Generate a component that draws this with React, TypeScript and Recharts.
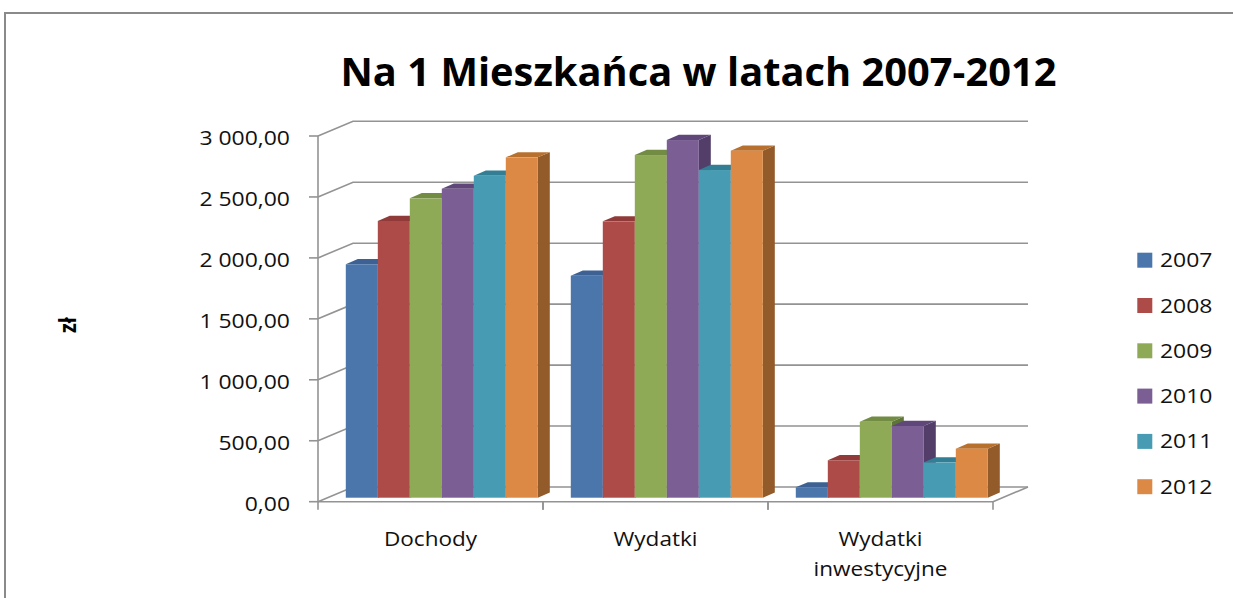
import React from 'react';
import { BarChart, Bar, XAxis, YAxis, CartesianGrid, Legend } from 'recharts';

// ---- data ----
const categories = ['Dochody', 'Wydatki', 'Wydatki inwestycyjne'];
const years = ['2007', '2008', '2009', '2010', '2011', '2012'];
const v2007 = [1915, 1821, 85];
const v2008 = [2270, 2267, 307];
const v2009 = [2456, 2811, 623];
const v2010 = [2535, 2934, 588];
const v2011 = [2641, 2688, 290];
const v2012 = [2792, 2847, 402];
const yTicks = [0, 500, 1000, 1500, 2000, 2500, 3000];
const chartTitle = 'Na 1 Mieszkańca w latach 2007-2012';
const yTitle = 'zł';

const seriesValues = [v2007, v2008, v2009, v2010, v2011, v2012];
const data = categories.map((c, i) => {
  const row: any = { name: c };
  years.forEach((y, k) => { row['y' + y] = seriesValues[k][i]; });
  return row;
});

// ---- styles ----
const FRONT = ['#4A76AC', '#AD4B48', '#8FAA57', '#7A5E94', '#479CB3', '#DB8944'];
const TOP = ['#3C6192', '#903B39', '#728C44', '#5F4879', '#327F95', '#B8702F'];
const SIDE = ['#33537C', '#7A302E', '#5E7537', '#523E69', '#2B6D80', '#935A2A'];
const FONT = "'Open Sans', 'Noto Sans', sans-serif";
const TXT = '#111';
const GRID = '#939393';
const SX = 1.12; // horizontal stretch of text
const DEPTH_X = 35;
const DEPTH_Y = 14.7;
const BAR_SHIFT_X = 10.8;
const BAR_SHIFT_Y = -4;
const BAR_DX = 12;
const BAR_DY = 5.2;

const fmt = (v: number) => {
  const s = Math.round(v).toString();
  const withSpaces = s.replace(/\B(?=(\d{3})+(?!\d))/g, ' ');
  return withSpaces + ',00';
};

const make3D = (k: number) => (props: any) => {
  const { x, y, width, height } = props;
  if (x == null || y == null || !width || height == null) return <g />;
  const X = x + BAR_SHIFT_X;
  const Y = y + BAR_SHIFT_Y;
  const w = width;
  const h = height;
  return (
    <g>
      <path d={`M${X + w},${Y} L${X + w + BAR_DX},${Y - BAR_DY} L${X + w + BAR_DX},${Y + h - BAR_DY} L${X + w},${Y + h} Z`} fill={SIDE[k]} />
      <path d={`M${X},${Y} L${X + BAR_DX},${Y - BAR_DY} L${X + w + BAR_DX},${Y - BAR_DY} L${X + w},${Y} Z`} fill={TOP[k]} />
      <rect x={X} y={Y} width={w} height={h} fill={FRONT[k]} />
    </g>
  );
};

const gridLine = (props: any) => {
  const { x1, y1, x2, index } = props;
  const bottom = props.y != null && props.height != null ? props.y + props.height : NaN;
  const isFloor = !isNaN(bottom) ? Math.abs(y1 - bottom) < 1 : index === 0;
  const bx = x1 + DEPTH_X;
  const by = y1 - DEPTH_Y;
  const bxr = x2 + DEPTH_X;
  return (
    <g key={`g-${index}`}>
      <path d={`M${x1},${y1} L${bx},${by} L${bxr},${by}`} stroke={GRID} strokeWidth={1.6} fill="none" />
      {isFloor && <path d={`M${x2},${y1} L${bxr},${by}`} stroke={GRID} strokeWidth={1.6} fill="none" />}
    </g>
  );
};

const YTick = (props: any) => {
  const { x, y, payload } = props;
  return (
    <text
      transform={`translate(${x - 17},${y + 2}) scale(${SX},1)`}
      textAnchor="end"
      dy="0.357em"
      fontFamily={FONT}
      fontSize={20.5}
      fill={TXT}
    >
      {fmt(payload.value)}
    </text>
  );
};

const XTick = (props: any) => {
  const { x, y, payload } = props;
  const half = payload && payload.offset ? payload.offset : 112.5;
  const words = String(payload.value).split(' ');
  return (
    <g>
      <line x1={x - half} y1={y} x2={x - half} y2={y + 8} stroke={GRID} strokeWidth={1.6} />
      <line x1={x + half} y1={y} x2={x + half} y2={y + 8} stroke={GRID} strokeWidth={1.6} />
      {words.map((w, i) => (
        <text
          key={i}
          transform={`translate(${x},${y + 44 + i * 30}) scale(1.1,1)`}
          textAnchor="middle"
          fontFamily={FONT}
          fontSize={20.5}
          fill={TXT}
        >
          {w}
        </text>
      ))}
    </g>
  );
};

const renderLegend = (props: any) => {
  const payload = props.payload || [];
  return (
    <svg width={100} height={270} style={{ overflow: 'visible' }}>
      {payload.map((p: any, i: number) => (
        <g key={i}>
          <rect x={7.3} y={7.7 + i * 45.3} width={15} height={15} fill={p.color} />
          <text
            transform={`translate(30,${15.2 + 7 + i * 45.3}) scale(${SX},1)`}
            fontFamily={FONT}
            fontSize={20.5}
            fill={TXT}
          >
            {p.value}
          </text>
        </g>
      ))}
    </svg>
  );
};

export default function App() {
  return (
    <div style={{ position: 'absolute', left: 0, top: 0, width: 1233, height: 598, background: '#fff' }}>
      <BarChart
        width={1233}
        height={598}
        data={data}
        margin={{ top: 136, right: 240, bottom: 0, left: 0 }}
        barSize={32}
        barGap={0}
        style={{ fontFamily: FONT }}
      >
        <CartesianGrid vertical={false} horizontal={gridLine} />
        <XAxis
          dataKey="name"
          height={96.3}
          axisLine={{ stroke: GRID, strokeWidth: 1.6 }}
          tickLine={false}
          tickSize={0}
          tickMargin={0}
          interval={0}
          tick={<XTick />}
        />
        <YAxis
          type="number"
          domain={[0, 3000]}
          ticks={yTicks}
          interval={0}
          width={318}
          axisLine={{ stroke: GRID, strokeWidth: 1.6 }}
          tickLine={{ stroke: GRID, strokeWidth: 1.6 }}
          tickSize={9}
          tick={<YTick />}
        />
        <Legend
          layout="horizontal"
          verticalAlign="middle"
          align="center"
          wrapperStyle={{ position: 'absolute', left: 1130, top: 245, width: 100, height: 270 }}
          content={renderLegend}
        />
        {years.map((yr, k) => (
          <Bar
            key={yr}
            dataKey={'y' + yr}
            name={yr}
            fill={FRONT[k]}
            isAnimationActive={false}
            shape={make3D(k)}
          />
        ))}
      </BarChart>
      <svg
        width={1233}
        height={598}
        style={{ position: 'absolute', left: 0, top: 0, pointerEvents: 'none' }}
      >
        <path d="M5,598 L5,13 L1233,13" stroke="#8a8a8a" strokeWidth={2} fill="none" />
        <text
          x={698.5}
          y={86}
          textAnchor="middle"
          fontFamily={FONT}
          fontWeight="bold"
          fontSize={40}
          fill="#000"
          textLength={716}
          lengthAdjust="spacingAndGlyphs"
        >
          {chartTitle}
        </text>
        <text
          transform="translate(76,325) rotate(-90) scale(1,1.2)"
          textAnchor="middle"
          fontFamily={FONT}
          fontWeight="bold"
          fontSize={20}
          fill="#000"
        >
          {yTitle}
        </text>
      </svg>
    </div>
  );
}
